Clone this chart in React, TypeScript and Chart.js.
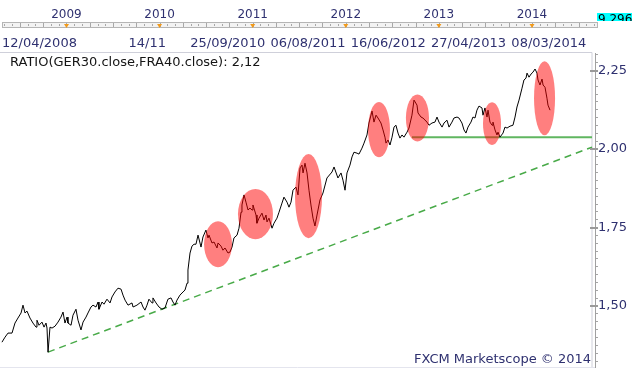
import React, { useEffect, useRef } from 'react';
import { Chart, registerables } from 'chart.js';

Chart.register(...registerables);

// ---- data (decimal year, ratio value) ----
const dates = [
  2008.307, 2008.340, 2008.372, 2008.415, 2008.447, 2008.479, 2008.512, 2008.533, 2008.555, 2008.576,
  2008.608, 2008.640, 2008.673, 2008.683, 2008.705, 2008.737, 2008.759, 2008.780, 2008.791, 2008.802,
  2008.823, 2008.845, 2008.877, 2008.909, 2008.941, 2008.963, 2008.984, 2009.006, 2009.016, 2009.049,
  2009.070, 2009.102, 2009.124, 2009.156, 2009.178, 2009.210, 2009.231, 2009.263, 2009.285, 2009.317,
  2009.339, 2009.349, 2009.382, 2009.403, 2009.435, 2009.468, 2009.489, 2009.521, 2009.553, 2009.586,
  2009.607, 2009.629, 2009.661, 2009.704, 2009.715, 2009.757, 2009.801, 2009.822, 2009.843, 2009.865,
  2009.886, 2009.919, 2009.929, 2009.962, 2009.994, 2010.026, 2010.058, 2010.090, 2010.123, 2010.144,
  2010.166, 2010.187, 2010.219, 2010.252, 2010.273, 2010.295, 2010.305, 2010.327, 2010.348, 2010.370,
  2010.391, 2010.413, 2010.445, 2010.466, 2010.498, 2010.520, 2010.531, 2010.563, 2010.585, 2010.617,
  2010.628, 2010.660, 2010.681, 2010.703, 2010.735, 2010.756, 2010.778, 2010.799, 2010.832, 2010.853,
  2010.875, 2010.885, 2010.907, 2010.928, 2010.950, 2010.971, 2010.993, 2011.003, 2011.036, 2011.046,
  2011.068, 2011.100, 2011.122, 2011.143, 2011.154, 2011.175, 2011.208, 2011.229, 2011.261, 2011.283,
  2011.315, 2011.336, 2011.369, 2011.390, 2011.412, 2011.433, 2011.465, 2011.487, 2011.509, 2011.530,
  2011.541, 2011.562, 2011.584, 2011.605, 2011.626, 2011.648, 2011.669, 2011.691, 2011.723, 2011.755,
  2011.798, 2011.852, 2011.874, 2011.916, 2011.949, 2011.970, 2011.992, 2012.013, 2012.045, 2012.067,
  2012.088, 2012.121, 2012.142, 2012.174, 2012.196, 2012.228, 2012.249, 2012.282, 2012.303, 2012.325,
  2012.346, 2012.378, 2012.400, 2012.421, 2012.432, 2012.454, 2012.475, 2012.497, 2012.518, 2012.539,
  2012.561, 2012.582, 2012.604, 2012.625, 2012.658, 2012.679, 2012.711, 2012.733, 2012.765, 2012.776,
  2012.808, 2012.829, 2012.872, 2012.894, 2012.926, 2012.958, 2012.980, 2013.001, 2013.034, 2013.055,
  2013.087, 2013.109, 2013.141, 2013.162, 2013.195, 2013.216, 2013.248, 2013.270, 2013.291, 2013.313,
  2013.345, 2013.366, 2013.388, 2013.409, 2013.431, 2013.463, 2013.474, 2013.495, 2013.517, 2013.528,
  2013.549, 2013.571, 2013.581, 2013.603, 2013.624, 2013.635, 2013.656, 2013.689, 2013.710, 2013.732,
  2013.764, 2013.796, 2013.818, 2013.839, 2013.861, 2013.893, 2013.914, 2013.936, 2013.947, 2013.968,
  2013.990, 2014.011, 2014.033, 2014.054, 2014.065, 2014.086, 2014.108, 2014.119, 2014.140, 2014.161,
  2014.172, 2014.194,
];

const ratio = [
  1.385, 1.401, 1.414, 1.414, 1.446, 1.462, 1.478, 1.503, 1.478, 1.484,
  1.462, 1.446, 1.433, 1.455, 1.439, 1.449, 1.433, 1.446, 1.430, 1.353,
  1.433, 1.430, 1.436, 1.449, 1.465, 1.481, 1.446, 1.465, 1.446, 1.439,
  1.471, 1.490, 1.455, 1.424, 1.449, 1.465, 1.478, 1.497, 1.503, 1.497,
  1.513, 1.490, 1.513, 1.506, 1.522, 1.510, 1.529, 1.545, 1.557, 1.554,
  1.535, 1.519, 1.503, 1.510, 1.497, 1.503, 1.513, 1.497, 1.487, 1.503,
  1.522, 1.510, 1.526, 1.510, 1.497, 1.490, 1.494, 1.522, 1.526, 1.513,
  1.503, 1.519, 1.535, 1.545, 1.551, 1.573, 1.615, 1.669, 1.691, 1.697,
  1.697, 1.726, 1.688, 1.720, 1.742, 1.717, 1.726, 1.701, 1.704, 1.685,
  1.701, 1.691, 1.678, 1.685, 1.669, 1.672, 1.688, 1.717, 1.726, 1.748,
  1.799, 1.822, 1.854, 1.831, 1.806, 1.812, 1.806, 1.822, 1.790, 1.764,
  1.780, 1.796, 1.774, 1.790, 1.768, 1.780, 1.748, 1.764, 1.780, 1.799,
  1.828, 1.847, 1.831, 1.815, 1.831, 1.869, 1.879, 1.854, 1.940, 1.949,
  1.924, 1.955, 1.924, 1.869, 1.822, 1.780, 1.755, 1.790, 1.838, 1.860,
  1.908, 1.927, 1.943, 1.908, 1.924, 1.901, 1.869, 1.924, 1.949, 1.975,
  1.990, 1.987, 1.984, 2.003, 2.019, 2.045, 2.083, 2.121, 2.086, 2.108,
  2.099, 2.083, 2.061, 2.038, 2.019, 2.029, 2.013, 2.038, 2.070, 2.076,
  2.051, 2.035, 2.045, 2.038, 2.054, 2.067, 2.108, 2.156, 2.140, 2.115,
  2.102, 2.099, 2.086, 2.076, 2.083, 2.086, 2.102, 2.086, 2.070, 2.083,
  2.092, 2.070, 2.086, 2.099, 2.102, 2.099, 2.083, 2.061, 2.051, 2.070,
  2.086, 2.102, 2.099, 2.124, 2.137, 2.131, 2.108, 2.131, 2.102, 2.124,
  2.086, 2.076, 2.086, 2.061, 2.045, 2.054, 2.038, 2.051, 2.070, 2.067,
  2.073, 2.076, 2.102, 2.134, 2.156, 2.194, 2.220, 2.226, 2.242, 2.229,
  2.239, 2.245, 2.255, 2.242, 2.220, 2.204, 2.223, 2.204, 2.197, 2.162,
  2.140, 2.124,
];

// horizontal support line and rising trend line
const supportX = [2012.711, 2014.645];
const supportY = [2.038, 2.038];
const trendX = [2008.802, 2014.645];
const trendY = [1.3535, 2.006];

// highlighted zones (centre date, centre value, half-span in years, half-span in value)
const zoneX = [2010.628, 2011.030, 2011.600, 2012.357, 2012.770, 2013.571, 2014.135];
const zoneY = [1.697, 1.793, 1.850, 2.062, 2.099, 2.081, 2.162];
const zoneHalfX = [0.150, 0.188, 0.145, 0.118, 0.124, 0.097, 0.113];
const zoneHalfY = [0.073, 0.080, 0.134, 0.088, 0.075, 0.068, 0.118];

// header axis labels
const yearTicks = [2009, 2010, 2011, 2012, 2013, 2014];
const dateTickPos = [2008.279, 2009.868, 2010.732, 2011.595, 2012.456, 2013.318, 2014.181];
const dateTickLabels = ['12/04/2008', '14/11', '25/09/2010', '06/08/2011', '16/06/2012', '27/04/2013', '08/03/2014'];

// price axis ticks
const yTickValues = [
  1.325, 1.35, 1.375, 1.4, 1.425, 1.45, 1.475, 1.5, 1.525, 1.55,
  1.575, 1.6, 1.625, 1.65, 1.675, 1.7, 1.725, 1.75, 1.775, 1.8,
  1.825, 1.85, 1.875, 1.9, 1.925, 1.95, 1.975, 2.0, 2.025, 2.05,
  2.075, 2.1, 2.125, 2.15, 2.175, 2.2, 2.225, 2.25, 2.275, 2.3,
];
const labelledValues = [1.5, 1.75, 2.0, 2.25];

const indicatorLabel = 'RATIO(GER30.close,FRA40.close): 2,12';
const watermark = 'FXCM Marketscope © 2014';
const lastPriceLabel = '9.296';

const FONT = '"DejaVu Sans", Verdana, sans-serif';
const NAVY = '#2f3170';

const isLabelled = (v: number) => labelledValues.some((t) => Math.abs(t - v) < 1e-6);

const headerPlugin = {
  id: 'header',
  beforeDraw(chart: any) {
    const { ctx, chartArea: ca, scales } = chart;
    const x = scales.x;
    ctx.save();
    ctx.fillStyle = '#ffffff';
    ctx.fillRect(0, 0, chart.width, chart.height);

    // time ruler
    ctx.fillStyle = '#f3f3f3';
    ctx.fillRect(2, 22, 596, 5);
    ctx.strokeStyle = '#b5b5b5';
    ctx.lineWidth = 1;
    ctx.strokeRect(2.5, 22.5, 595, 5);
    ctx.strokeStyle = '#a8a8a8';
    const startM = Math.ceil(x.min * 12);
    const endM = Math.floor(x.max * 12);
    for (let m = startM; m <= endM; m++) {
      const px = Math.round(x.getPixelForValue(m / 12)) + 0.5;
      if (px > 596) continue;
      ctx.beginPath();
      const tall = m % 3 === 0;
      ctx.moveTo(px, tall ? 23 : 24);
      ctx.lineTo(px, tall ? 27 : 26);
      ctx.stroke();
    }
    ctx.fillStyle = '#f29a1a';
    yearTicks.forEach((yr) => {
      const px = x.getPixelForValue(yr);
      ctx.beginPath();
      ctx.moveTo(px - 2.5, 24);
      ctx.lineTo(px + 2.5, 24);
      ctx.lineTo(px, 28);
      ctx.closePath();
      ctx.fill();
    });

    // year labels
    ctx.font = `12px ${FONT}`;
    ctx.fillStyle = NAVY;
    ctx.textAlign = 'center';
    ctx.textBaseline = 'middle';
    yearTicks.forEach((yr) => {
      ctx.fillText(String(yr), x.getPixelForValue(yr), 15);
    });

    // date labels
    ctx.font = `13px ${FONT}`;
    dateTickPos.forEach((d, i) => {
      const lbl = dateTickLabels[i];
      const w = ctx.measureText(lbl).width;
      const px = Math.max(2 + w / 2, x.getPixelForValue(d));
      ctx.fillText(lbl, px, 44);
    });

    // last price box
    ctx.fillStyle = '#00ffff';
    ctx.fillRect(597, 13, 35, 8);
    ctx.save();
    ctx.beginPath();
    ctx.rect(597, 13, 35, 8);
    ctx.clip();
    ctx.fillStyle = '#000';
    ctx.font = `12px ${FONT}`;
    ctx.textAlign = 'left';
    ctx.textBaseline = 'alphabetic';
    ctx.fillText(lastPriceLabel, 598, 23);
    ctx.restore();

    // plot frame
    ctx.strokeStyle = '#cfd0da';
    ctx.beginPath();
    ctx.moveTo(0, ca.top - 0.5);
    ctx.lineTo(ca.right - 3, ca.top - 0.5);
    ctx.lineTo(ca.right - 3, ca.bottom);
    ctx.stroke();
    ctx.strokeStyle = '#e4e5ee';
    ctx.beginPath();
    ctx.moveTo(0, ca.bottom + 0.5);
    ctx.lineTo(ca.right, ca.bottom + 0.5);
    ctx.stroke();

    // indicator name & watermark
    ctx.font = `13px ${FONT}`;
    ctx.fillStyle = '#151515';
    ctx.textAlign = 'left';
    ctx.textBaseline = 'middle';
    ctx.fillText(indicatorLabel, 10, 63);
    ctx.fillStyle = NAVY;
    ctx.textAlign = 'right';
    ctx.fillText(watermark, 591, 360);
    ctx.restore();
  },
  afterDraw(chart: any) {
    const { ctx, chartArea: ca, scales } = chart;
    const y = scales.y;
    ctx.save();
    ctx.strokeStyle = '#9a9a9a';
    ctx.lineWidth = 2;
    labelledValues.forEach((v) => {
      const py = Math.round(y.getPixelForValue(v));
      ctx.beginPath();
      ctx.moveTo(ca.right - 5, py);
      ctx.lineTo(ca.right + 3, py);
      ctx.stroke();
    });
    ctx.restore();
  },
};

const zonesPlugin = {
  id: 'zones',
  afterDatasetsDraw(chart: any) {
    const { ctx, scales } = chart;
    const x = scales.x;
    const y = scales.y;
    ctx.save();
    ctx.fillStyle = 'rgba(255, 0, 0, 0.5)';
    zoneX.forEach((cxv, i) => {
      const cx = x.getPixelForValue(cxv);
      const cy = y.getPixelForValue(zoneY[i]);
      const rx = Math.abs(x.getPixelForValue(cxv + zoneHalfX[i]) - cx);
      const ry = Math.abs(y.getPixelForValue(zoneY[i] + zoneHalfY[i]) - cy);
      ctx.beginPath();
      ctx.ellipse(cx, cy, rx, ry, 0, 0, Math.PI * 2);
      ctx.fill();
    });
    ctx.restore();
  },
};

export default function App() {
  const canvasRef = useRef<HTMLCanvasElement | null>(null);

  useEffect(() => {
    if (!canvasRef.current) return;
    const chart = new Chart(canvasRef.current, {
      type: 'line',
      data: {
        datasets: [
          {
            label: 'ratio',
            data: dates.map((d, i) => ({ x: d, y: ratio[i] })),
            borderColor: '#000000',
            borderWidth: 1,
            pointRadius: 0,
            tension: 0,
            fill: false,
          },
          {
            label: 'support',
            data: supportX.map((d, i) => ({ x: d, y: supportY[i] })),
            borderColor: 'rgb(96, 182, 96)',
            borderWidth: 2,
            pointRadius: 0,
            fill: false,
          },
          {
            label: 'trend',
            data: trendX.map((d, i) => ({ x: d, y: trendY[i] })),
            borderColor: 'rgb(72, 170, 72)',
            borderWidth: 1.5,
            borderDash: [7, 5],
            pointRadius: 0,
            fill: false,
          },
        ],
      },
      options: {
        animation: false,
        responsive: false,
        maintainAspectRatio: false,
        devicePixelRatio: 1,
        layout: { padding: { top: 53, bottom: 9, left: 0, right: 0 } },
        plugins: {
          legend: { display: false },
          tooltip: { enabled: false },
        },
        scales: {
          x: {
            type: 'linear',
            min: 2008.286,
            max: 2014.677,
            display: false,
          },
          y: {
            type: 'linear',
            position: 'right',
            min: 1.306,
            max: 2.306,
            afterBuildTicks: (s: any) => {
              s.ticks = yTickValues.map((v) => ({ value: v }));
            },
            afterFit: (s: any) => {
              s.width = 37;
            },
            border: { display: true, color: '#a0a0a0', width: 1 },
            grid: {
              drawOnChartArea: false,
              drawTicks: true,
              tickLength: 3,
              tickColor: '#a5a5a5',
            },
            ticks: {
              autoSkip: false,
              padding: 0,
              color: NAVY,
              font: { family: FONT, size: 13 },
              callback: (v: any) => {
                const n = Number(v);
                return isLabelled(n) ? n.toFixed(2).replace('.', ',') : '';
              },
            },
          },
        },
      },
      plugins: [headerPlugin, zonesPlugin],
    });
    return () => chart.destroy();
  }, []);

  return (
    <div style={{ position: 'fixed', left: 0, top: 0, width: 632, height: 376, background: '#fff' }}>
      <canvas ref={canvasRef} width={632} height={376} style={{ display: 'block' }} />
    </div>
  );
}
